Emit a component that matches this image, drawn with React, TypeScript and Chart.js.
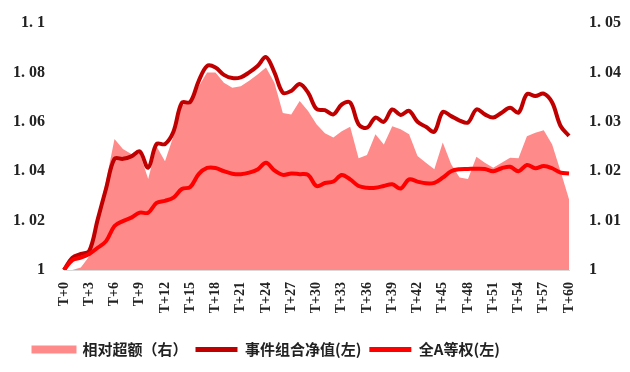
import React, { useEffect, useRef } from "react";
import { Chart, registerables } from "chart.js";

Chart.register(...registerables);

const labels: string[] = Array.from({ length: 61 }, (_, i) => `T+${i}`);

const excess: number[] = [
  1.0, 1.0, 1.0005, 1.0028, 1.0106, 1.018, 1.0265, 1.0245, 1.0235, 1.0237,
  1.0184, 1.025, 1.022, 1.0271, 1.0332, 1.0345, 1.0372, 1.04, 1.04, 1.0379,
  1.0369, 1.0372, 1.0383, 1.0396, 1.041, 1.0379, 1.0318, 1.0315, 1.0342, 1.0322,
  1.0295, 1.0277, 1.0268, 1.0281, 1.029, 1.0226, 1.0233, 1.0275, 1.0254, 1.0291,
  1.0285, 1.0275, 1.0231, 1.0217, 1.0204, 1.0258, 1.0214, 1.0187, 1.0184, 1.0229,
  1.0217, 1.0207, 1.0217, 1.0227, 1.0226, 1.0271, 1.0278, 1.0283, 1.0254, 1.02,
  1.0143,
];

const netValue: number[] = [
  1.0, 1.005, 1.0065, 1.0077, 1.0204, 1.033, 1.045, 1.045, 1.046, 1.048,
  1.0414, 1.051, 1.051, 1.056, 1.0677, 1.068, 1.0765, 1.0826, 1.082, 1.079,
  1.0777, 1.078, 1.08, 1.0826, 1.0862, 1.08, 1.0718, 1.0725, 1.0753, 1.0718,
  1.0652, 1.0647, 1.063, 1.067, 1.0678, 1.059, 1.0576, 1.0617, 1.06, 1.065,
  1.0628, 1.0644, 1.06, 1.058, 1.056, 1.064, 1.0623, 1.0605, 1.0597, 1.065,
  1.063, 1.0617, 1.0637, 1.0657, 1.0637, 1.0712, 1.0704, 1.0714, 1.0678, 1.0583,
  1.0543,
];

const equalWeight: number[] = [
  1.0, 1.004, 1.005, 1.0065, 1.009, 1.0117, 1.0178, 1.0198, 1.0212, 1.0232,
  1.0232, 1.0272, 1.028, 1.0293, 1.0328, 1.0336, 1.0388, 1.0413, 1.0413, 1.04,
  1.039, 1.0388, 1.0394, 1.0407, 1.0434, 1.0403, 1.0385, 1.0391, 1.0388, 1.0385,
  1.034, 1.0352, 1.0358, 1.0385, 1.0367, 1.034, 1.0333, 1.0333, 1.034, 1.0347,
  1.033, 1.0367, 1.0358, 1.0351, 1.0353, 1.0374, 1.04, 1.0408, 1.0409, 1.041,
  1.0409, 1.04, 1.0412, 1.0418, 1.04, 1.0425, 1.0412, 1.0421, 1.0412, 1.0394,
  1.0391,
];

const seriesNames: string[] = ["相对超额（右）", "事件组合净值(左)", "全A等权(左)"];

const fmt = (v: number) => {
  const s = String(Number(v.toFixed(3)));
  return s.replace(".", ". ");
};

const legendShift = {
  id: "legendShift",
  afterLayout(chart: any) {
    if (chart.legend) {
      chart.legend.left += 17;
    }
  },
};

export default function App() {
  const ref = useRef<HTMLCanvasElement | null>(null);
  useEffect(() => {
    if (!ref.current) return;
    const tickFont = { family: "'Liberation Serif', serif", size: 16, weight: "bold" as const };
    const chart = new Chart(ref.current, {
      type: "line",
      plugins: [legendShift],
      data: {
        labels,
        datasets: [
          {
            label: seriesNames[0],
            data: excess,
            yAxisID: "yR",
            borderWidth: 0,
            borderColor: "#FF8A8A",
            backgroundColor: "#FF8A8A",
            fill: "start",
            pointRadius: 0,
            tension: 0,
            order: 3,
          },
          {
            label: seriesNames[1],
            data: netValue,
            yAxisID: "yL",
            borderWidth: 4,
            borderColor: "#C00000",
            backgroundColor: "#C00000",
            fill: false,
            pointRadius: 0,
            tension: 0.35,
            order: 2,
          },
          {
            label: seriesNames[2],
            data: equalWeight,
            yAxisID: "yL",
            borderWidth: 4,
            borderColor: "#FF0000",
            backgroundColor: "#FF0000",
            fill: false,
            pointRadius: 0,
            tension: 0.35,
            order: 1,
          },
        ],
      },
      options: {
        animation: false,
        responsive: false,
        maintainAspectRatio: false,
        layout: { padding: { left: 0, top: 15, right: 0, bottom: 0 } },
        plugins: {
          tooltip: { enabled: false },
          legend: {
            position: "bottom",
            align: "start",
            labels: {
              boxWidth: 42,
              boxHeight: 5,
              padding: 8,
              color: "#222",
              font: { family: "'Noto Sans CJK SC', sans-serif", size: 15, weight: "bold" },
              sort: (a: any, b: any) => a.datasetIndex - b.datasetIndex,
              generateLabels: (c: any) => {
                const items = (Chart.defaults.plugins.legend.labels as any).generateLabels(c);
                return items.map((it: any) => {
                  const ds = c.data.datasets[it.datasetIndex];
                  return {
                    ...it,
                    fillStyle: ds.backgroundColor,
                    strokeStyle: ds.backgroundColor,
                    lineWidth: it.datasetIndex === 0 ? 3 : 0,
                  };
                });
              },
            },
          },
        },
        scales: {
          x: {
            type: "category",
            offset: false,
            grid: { display: false, drawTicks: false },
            border: { display: true, color: "#d9d9d9", width: 1 },
            afterFit: (s: any) => {
              s.height = 64;
            },
            ticks: {
              autoSkip: false,
              maxRotation: 90,
              minRotation: 90,
              padding: 12,
              color: "#222",
              font: { family: "'Liberation Serif', serif", size: 14, weight: "bold" },
              callback: (_v: any, i: number) => (i % 3 === 0 ? labels[i] : ""),
            },
          },
          yL: {
            type: "linear",
            position: "left",
            min: 1,
            max: 1.1,
            grid: { display: false, drawTicks: true, tickLength: 17 },
            border: { display: false },
            afterFit: (s: any) => {
              s.width = 56;
            },
            ticks: {
              stepSize: 0.02,
              padding: 2,
              color: "#222",
              font: tickFont,
              callback: (v: any) => fmt(Number(v)),
            },
          },
          yR: {
            type: "linear",
            position: "right",
            min: 1,
            max: 1.05,
            grid: { display: false, drawTicks: true, tickLength: 18 },
            border: { display: false },
            afterFit: (s: any) => {
              s.width = 53;
            },
            ticks: {
              stepSize: 0.01,
              padding: 2,
              color: "#222",
              font: tickFont,
              callback: (v: any) => fmt(Number(v)),
            },
          },
        },
      } as any,
    });
    return () => chart.destroy();
  }, []);
  return (
    <div style={{ width: 614, height: 359, background: "#fff" }}>
      <canvas ref={ref} width={614} height={359} style={{ display: "block" }} />
    </div>
  );
}
